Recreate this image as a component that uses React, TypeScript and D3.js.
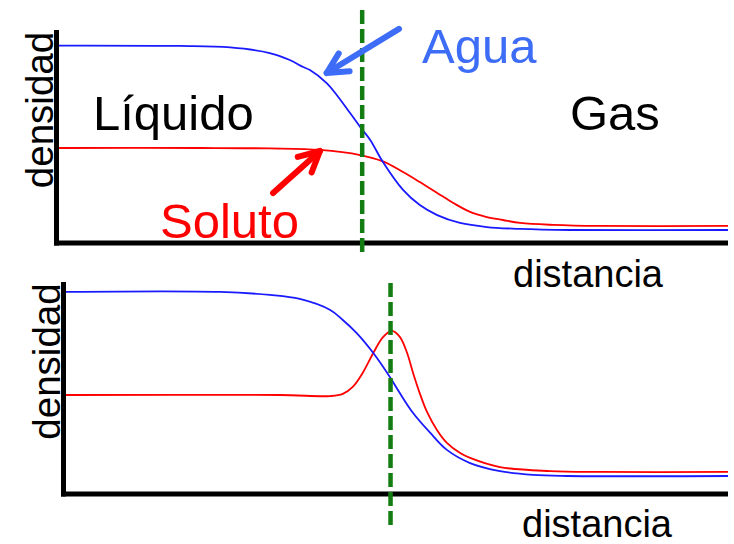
import React from "react";
import * as d3 from "d3";

// Density profiles across a liquid–gas interface (distance 0–10, density 0–1)
const topDistanceAgua = [0, 1.82, 2.57, 3.16, 3.46, 3.66, 3.76, 4.01, 4.16, 4.36, 4.51, 4.66, 4.85, 5.15, 5.4, 5.66, 6.0, 6.4, 6.9, 7.64, 10];
const topDensityAgua = [0.927, 0.925, 0.918, 0.892, 0.859, 0.826, 0.812, 0.751, 0.695, 0.61, 0.545, 0.484, 0.38, 0.249, 0.178, 0.131, 0.094, 0.075, 0.066, 0.061, 0.061];

const topDistanceSoluto = [0, 2.12, 3.16, 3.91, 4.51, 4.85, 5.15, 5.4, 5.66, 5.9, 6.15, 6.4, 6.64, 6.9, 7.39, 8.09, 10];
const topDensitySoluto = [0.446, 0.446, 0.444, 0.437, 0.413, 0.383, 0.333, 0.286, 0.235, 0.188, 0.146, 0.122, 0.108, 0.094, 0.085, 0.08, 0.08];

const bottomDistanceAgua = [0, 2.34, 3.09, 3.54, 4.0, 4.19, 4.4, 4.65, 4.9, 5.05, 5.25, 5.51, 5.76, 6.11, 6.56, 7.06, 7.57, 10];
const bottomDensityAgua = [0.953, 0.953, 0.939, 0.92, 0.868, 0.821, 0.759, 0.665, 0.552, 0.476, 0.382, 0.288, 0.208, 0.146, 0.108, 0.09, 0.085, 0.085];

const bottomDistanceSoluto = [0, 3.24, 4.0, 4.19, 4.34, 4.49, 4.65, 4.8, 4.93, 5.05, 5.16, 5.25, 5.35, 5.46, 5.61, 5.76, 5.96, 6.11, 6.56, 7.32, 8.07, 10];
const bottomDensitySoluto = [0.467, 0.467, 0.462, 0.472, 0.505, 0.571, 0.665, 0.741, 0.769, 0.741, 0.665, 0.571, 0.476, 0.387, 0.302, 0.241, 0.193, 0.17, 0.127, 0.108, 0.104, 0.104];

// Interface position (green dashed marker) for each panel
const topInterface = 4.54;
const bottomInterface = 4.91;

// Annotation arrows: [tailDistance, tailDensity, tipDistance, tipDensity]
const aguaArrow = [5.09, 1.005, 4.01, 0.798];
const solutoArrow = [3.21, 0.235, 3.91, 0.432];

const FONT = "'Liberation Sans', Arial, Helvetica, sans-serif";
const BLUE_LABEL = "#3d6cf7";
const RED = "#ff0000";
const BLUE_LINE = "#1a1aff";
const GREEN = "#137d13";

type Scale = d3.ScaleLinear<number, number>;

function profilePath(xs: number[], ys: number[], x: Scale, y: Scale) {
  const pts = xs.map((d, i) => [d, ys[i]] as [number, number]);
  return d3
    .line<[number, number]>()
    .x((d) => x(d[0]))
    .y((d) => y(d[1]))
    .curve(d3.curveCatmullRom.alpha(0.5))(pts) as string;
}

function Arrow({ spec, x, y, color }: { spec: number[]; x: Scale; y: Scale; color: string }) {
  const tx = x(spec[0]);
  const ty = y(spec[1]);
  const hx = x(spec[2]);
  const hy = y(spec[3]);
  const ang = Math.atan2(ty - hy, tx - hx);
  const len = 23;
  const spread = (27 * Math.PI) / 180;
  const a1 = [hx + len * Math.cos(ang + spread), hy + len * Math.sin(ang + spread)];
  const a2 = [hx + len * Math.cos(ang - spread), hy + len * Math.sin(ang - spread)];
  return (
    <g stroke={color} strokeWidth={6} strokeLinecap="round" strokeLinejoin="round" fill="none">
      <line x1={tx} y1={ty} x2={hx} y2={hy} />
      <polyline points={`${a1[0]},${a1[1]} ${hx},${hy} ${a2[0]},${a2[1]}`} />
    </g>
  );
}

function Panel({
  x,
  y,
  aguaX,
  aguaY,
  solutoX,
  solutoY,
  iface,
  dashTop,
  dashBottom,
}: {
  x: Scale;
  y: Scale;
  aguaX: number[];
  aguaY: number[];
  solutoX: number[];
  solutoY: number[];
  iface: number;
  dashTop: number;
  dashBottom: number;
}) {
  const [x0, x1] = x.range();
  const y0 = y(0);
  const yTop = y(1);
  return (
    <g>
      <path d={profilePath(solutoX, solutoY, x, y)} fill="none" stroke={RED} strokeWidth={1.8} />
      <path d={profilePath(aguaX, aguaY, x, y)} fill="none" stroke={BLUE_LINE} strokeWidth={1.8} />
      <line x1={x0 - 1.5} y1={yTop} x2={x0 - 1.5} y2={y0 + 2.5} stroke="#000" strokeWidth={5} />
      <line x1={x0 - 4} y1={y0} x2={x1} y2={y0} stroke="#000" strokeWidth={5} />
      <line
        x1={x(iface)}
        x2={x(iface)}
        y1={y(dashTop)}
        y2={y(dashBottom)}
        stroke={GREEN}
        strokeWidth={4.5}
        strokeDasharray="14 5"
      />
    </g>
  );
}

export default function App() {
  const xTop = d3.scaleLinear().domain([0, 10]).range([58, 728]);
  const yTop = d3.scaleLinear().domain([0, 1]).range([243, 30]);
  const xBottom = d3.scaleLinear().domain([0, 10]).range([65, 728]);
  const yBottom = d3.scaleLinear().domain([0, 1]).range([494, 282]);

  return (
    <svg
      width={734}
      height={544}
      viewBox="0 0 734 544"
      style={{ position: "absolute", left: 0, top: 0, background: "#fff" }}
      fontFamily={FONT}
    >
      <rect width={734} height={544} fill="#fff" />

      <Panel
        x={xTop}
        y={yTop}
        aguaX={topDistanceAgua}
        aguaY={topDensityAgua}
        solutoX={topDistanceSoluto}
        solutoY={topDensitySoluto}
        iface={topInterface}
        dashTop={1.094}
        dashBottom={-0.042}
      />
      <Panel
        x={xBottom}
        y={yBottom}
        aguaX={bottomDistanceAgua}
        aguaY={bottomDensityAgua}
        solutoX={bottomDistanceSoluto}
        solutoY={bottomDensitySoluto}
        iface={bottomInterface}
        dashTop={0.995}
        dashBottom={-0.151}
      />

      <Arrow spec={aguaArrow} x={xTop} y={yTop} color={BLUE_LABEL} />
      <Arrow spec={solutoArrow} x={xTop} y={yTop} color={RED} />

      <text transform="translate(53,110) rotate(-90)" textAnchor="middle" fontSize={38.5} fill="#000">
        densidad
      </text>
      <text transform="translate(60,361.5) rotate(-90)" textAnchor="middle" fontSize={38.5} fill="#000">
        densidad
      </text>

      <text x={93} y={130} fontSize={49} fill="#000">Líquido</text>
      <text x={570} y={130} fontSize={49} fill="#000">Gas</text>
      <text x={422} y={63} fontSize={49} fill={BLUE_LABEL}>Agua</text>
      <text x={160} y={238} fontSize={49} fill={RED}>Soluto</text>

      <text x={513} y={287} fontSize={38} fill="#000">distancia</text>
      <text x={522} y={537} fontSize={38} fill="#000">distancia</text>
    </svg>
  );
}
